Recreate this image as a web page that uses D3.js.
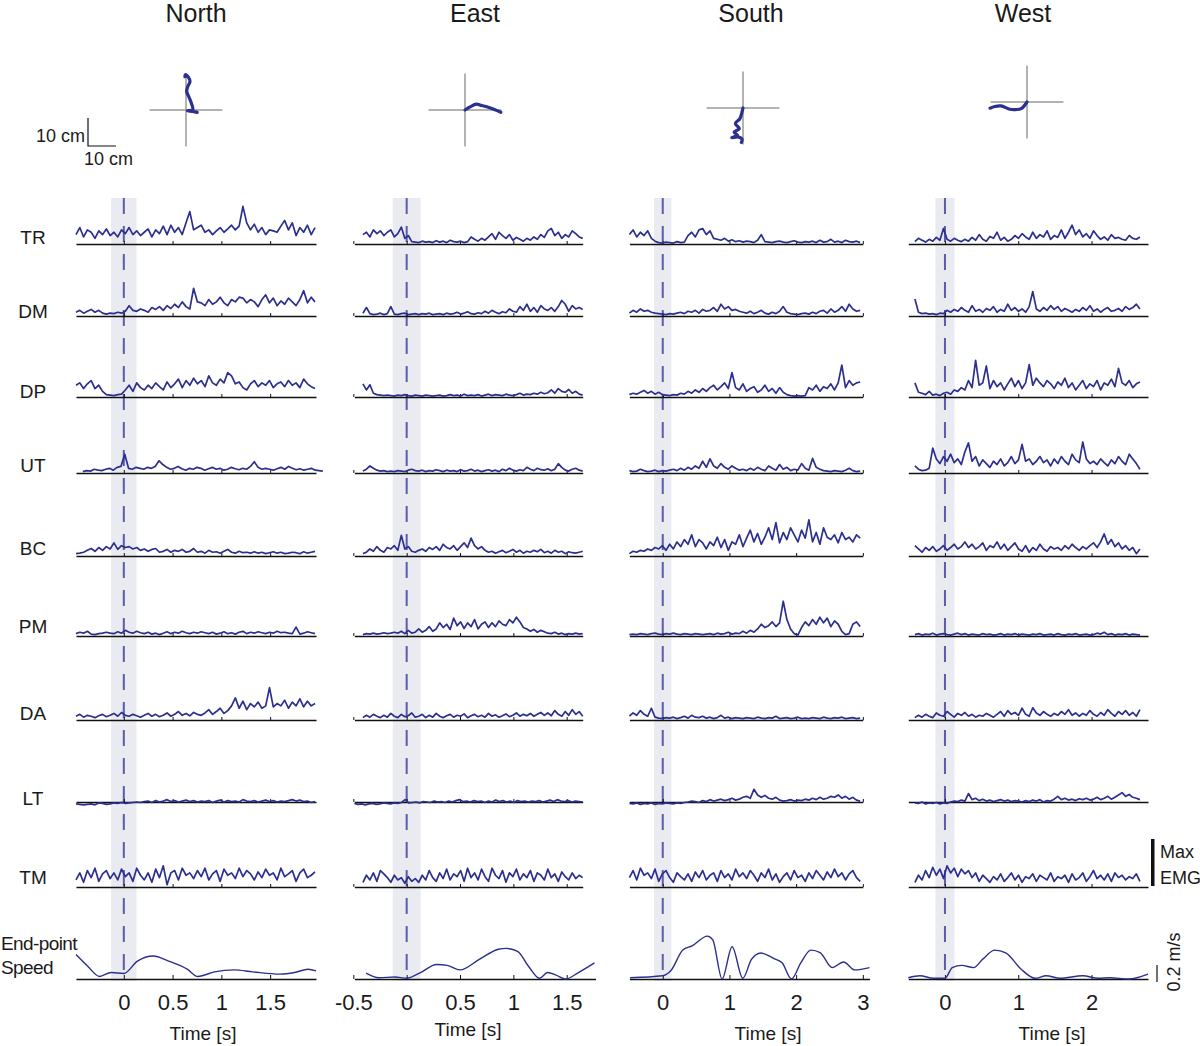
<!DOCTYPE html>
<html><head><meta charset="utf-8">
<script src="https://cdn.jsdelivr.net/npm/d3@7"></script>
<style>
body{margin:0;background:#fff}
svg{display:block}
text{font-family:"Liberation Sans",Arial,Helvetica,sans-serif;fill:#1a1a1a}
</style>
</head><body>
<svg id="c" width="1200" height="1046"></svg>
<script>
// ---------------- DATA ----------------
const directions = ["North", "East", "South", "West"];
const muscles = ["TR", "DM", "DP", "UT", "BC", "PM", "DA", "LT", "TM"];

const ticksNorth = [0, 0.5, 1, 1.5];
const ticksEast = [-0.5, 0, 0.5, 1, 1.5];
const ticksSouth = [0, 1, 2, 3];
const ticksWest = [0, 1, 2];

// time extents (s)
const axisStart = [-0.49, -0.49, -0.5, -0.5];
const emgAxisEnd = [1.97, 1.65, 3.0, 2.77];
const speedAxisEnd = [1.97, 1.77, 3.1, 2.77];
const traceStart = [-0.49, -0.41, -0.5, -0.41];
const traceEnd = [1.96, 1.65, 2.96, 2.66];
const traceRangeNorthUT = [-0.42, 2.04];
const traceRangeEastLT = [-0.49, 1.65];
const onsetBand = [-0.13, 0.13];

// EMG envelopes, % of max EMG, muscle order as in `muscles`
const emgNorth = [
 [20,35,15,30,25,12,28,20,32,18,25,15,30,22,35,20, 28,18,25,32,15,30,22,38,20,40,25,35,20,45,69,30, 35,40,25,30,20,28,35,25,32,40,30,38,80,45,30,42, 25,35,20,30,28,25,38,50,30,45,18,35,25,40,20,35],
 [8,12,6,10,14,8,12,6,4,6,5,8,6,10,22,12, 10,15,12,8,18,14,20,12,22,16,25,18,30,20,15,59, 30,28,22,35,25,30,40,28,22,35,30,40,38,28,35,30, 20,35,45,28,38,22,32,25,38,30,22,35,54,28,40,30],
 [25,30,18,28,35,18,25,12,5,4,3,5,6,15,25,12, 30,20,15,25,18,30,22,15,32,20,28,38,20,35,25,40, 28,35,22,45,30,25,38,30,52,45,28,32,20,15,28,35, 22,30,25,35,20,28,32,22,35,25,30,20,38,28,22,18],
 [3,5,4,8,6,5,8,10,6,12,14,40,10,8,12,10, 8,12,10,14,26,18,12,8,10,14,9,6,10,8,12,10, 6,9,12,8,10,6,8,12,9,7,10,8,14,24,12,8, 10,8,6,9,12,8,14,10,7,9,6,8,10,6,5,4],
 [5,6,8,12,16,10,18,12,20,15,28,14,22,18,20,15, 18,12,15,10,14,16,8,10,14,8,12,10,14,8,10,16, 8,10,6,12,8,9,6,10,14,8,6,10,7,8,6,9, 6,8,5,7,9,6,8,5,6,8,7,5,9,6,8,10],
 [5,8,6,10,4,3,5,6,8,6,5,9,6,12,8,6, 10,7,5,8,4,6,3,6,9,5,8,6,10,7,5,8, 6,9,7,5,8,4,6,9,5,7,4,8,10,5,8,6, 9,7,5,8,6,10,7,8,6,5,19,4,6,9,7,5],
 [8,12,6,10,8,5,9,12,7,10,14,8,16,10,8,12, 9,6,10,14,8,12,7,10,15,8,12,18,10,14,9,16, 12,10,15,22,12,18,25,14,20,30,47,25,40,22,35,28, 38,25,30,69,28,35,30,42,25,38,30,45,28,40,30,35],
 [-4,-5,-6,-5,-4,-6,-2,-3,-5,-4,-2,-3,-1,-3,-2,-1, 0,-1,1,2,-1,3,0,2,5,1,3,0,2,4,1,3, 0,2,1,3,-1,2,4,0,3,1,2,0,5,2,1,3, 0,2,4,1,3,0,2,1,3,5,2,4,1,2,-1,1],
 [15,30,10,35,20,40,12,28,35,18,30,15,38,22,30,12, 40,25,15,30,10,38,20,45,5,30,35,15,40,25,30,18, 35,22,40,15,28,35,12,38,25,30,18,40,22,35,28,15, 32,20,38,25,30,15,40,22,28,35,12,30,38,20,25,32]
];

const emgEast = [
 [20,25,15,30,22,28,18,25,30,15,22,36,12,18,5,4, 3,6,4,5,3,7,4,6,3,8,5,4,6,3,5,15, 10,6,12,8,15,22,10,25,18,12,20,8,14,10,6,12, 8,15,10,20,14,28,33,18,25,12,20,15,28,22,15,12],
 [6,18,5,3,4,6,3,5,20,4,3,5,6,3,4,5, 3,5,4,6,3,4,5,3,6,4,5,8,4,6,9,5, 4,7,5,10,6,12,8,5,9,7,15,10,8,20,12,25, 10,18,8,22,15,12,18,10,20,33,25,10,22,15,18,14],
 [28,15,26,8,5,4,3,4,3,2,4,3,5,3,2,4, 3,2,4,3,2,3,4,2,3,5,3,4,2,6,3,4, 3,5,2,4,6,3,5,4,3,6,4,3,5,8,4,6, 5,8,6,10,7,9,15,8,18,12,10,16,8,12,6,4],
 [4,8,15,10,6,4,5,3,4,3,5,4,3,6,8,5, 4,6,3,5,4,7,5,3,6,4,5,3,7,4,5,8, 4,6,3,5,7,4,6,3,8,5,10,6,4,7,5,12, 8,5,10,7,6,9,5,8,20,12,6,4,8,10,6,4],
 [5,8,15,10,20,12,8,18,15,22,12,44,15,20,10,8, 12,15,10,18,14,20,12,25,18,15,22,12,20,28,18,38, 22,15,20,12,8,10,6,9,12,7,10,14,8,12,6,10, 8,12,9,14,7,10,6,12,8,10,5,9,7,6,8,10],
 [3,5,4,6,4,5,7,5,6,8,6,10,5,12,6,8, 15,8,12,20,10,15,28,18,25,14,38,22,30,16,28,20, 35,15,25,30,18,28,20,32,25,22,35,28,40,30,18,15, 10,14,8,12,9,6,5,8,4,6,3,5,4,6,4,5],
 [5,10,6,12,8,5,10,6,14,8,5,12,7,9,15,6, 8,12,5,10,6,14,8,5,9,12,6,10,8,13,5,9, 12,7,10,6,14,8,11,6,9,13,7,10,15,8,12,9, 14,8,12,16,10,15,9,20,12,8,18,10,22,12,18,8],
 [-3,-5,-4,-6,-4,-3,-5,-4,-2,-3,-4,-2,-3,-1,5,-2, -1,0,-2,1,0,-1,2,0,1,-1,2,0,3,5,1,2, 0,3,1,2,-1,2,0,4,1,3,0,2,-1,3,1,2, 0,2,1,3,0,2,4,1,5,2,1,3,0,2,1,0],
 [10,25,15,30,12,35,28,20,10,25,15,20,8,22,12,18, 10,25,15,35,20,12,30,18,38,15,28,22,35,12,40,20, 30,15,38,22,12,40,25,18,35,10,30,22,38,15,28,20, 35,12,30,25,15,38,20,28,12,32,22,15,30,18,25,20]
];

const emgSouth = [
 [20,30,15,25,18,28,12,6,3,2,4,3,2,5,3,4, 18,25,15,30,33,20,28,12,10,8,12,6,9,5,7,4, 6,5,3,8,20,5,4,3,5,6,4,3,5,7,4,3, 5,4,6,3,8,4,5,10,4,6,3,8,5,4,6,3],
 [6,12,8,15,10,12,8,6,5,4,3,5,4,6,8,5, 10,8,12,6,14,10,12,18,10,25,15,20,12,14,10,8, 6,10,5,8,12,6,4,8,5,10,20,8,5,4,3,5, 6,4,8,5,10,12,6,15,8,12,20,10,25,15,10,12],
 [5,8,6,10,14,8,12,6,10,5,4,3,5,4,8,6, 12,8,15,10,18,12,20,25,15,22,30,18,52,20,15,28, 12,18,22,10,15,25,12,18,8,20,10,5,3,2,3,2, 3,20,15,25,12,22,18,28,15,30,68,20,35,25,30,32],
 [5,3,4,8,5,3,4,6,3,5,4,6,8,5,10,6, 12,8,15,10,25,12,30,15,10,20,12,8,15,10,6,8, 5,10,6,12,8,5,15,10,6,18,8,12,5,8,6,20, 10,6,31,12,8,5,4,3,5,4,3,6,10,5,3,4],
 [5,10,8,12,10,15,12,18,15,22,12,25,15,30,20,35, 25,45,20,35,28,15,30,22,40,18,35,12,30,25,45,20, 38,55,30,48,25,40,60,35,71,28,50,35,60,45,30,55, 38,77,30,50,25,60,40,35,45,28,50,35,40,30,45,38],
 [3,4,3,5,4,3,5,6,4,3,5,4,6,4,3,5, 4,3,5,4,3,4,5,3,6,4,5,8,4,6,5,10, 6,12,8,15,25,18,22,30,20,28,74,35,15,5,2,18, 30,22,35,25,40,28,38,20,32,25,10,3,5,25,30,20],
 [8,15,10,20,12,8,25,6,4,3,5,4,6,3,5,8, 4,10,6,5,8,4,6,3,5,10,4,6,3,5,4,3, 5,4,3,6,4,3,5,4,8,3,4,5,3,4,6,3, 4,3,5,4,3,6,4,3,5,4,6,3,4,5,3,4],
 [-3,-4,-2,-5,-3,-4,-2,-5,-3,-4,-2,-3,-4,-2,-3,-1, 0,2,1,-1,3,1,5,2,4,6,3,5,8,4,6,10, 12,8,27,15,10,14,8,6,10,4,2,3,5,2,4,3, 6,4,8,5,10,6,8,12,10,15,8,12,6,10,4,2],
 [20,35,15,40,25,30,18,38,12,28,35,20,10,30,22,15, 28,12,32,20,35,15,25,30,12,35,20,28,15,38,22,30, 18,35,25,12,30,20,38,15,28,10,22,30,15,35,20,25, 12,30,18,35,25,15,32,20,38,22,30,15,28,35,20,12]
];

const emgWest = [
 [5,12,8,4,10,6,14,8,33,10,6,12,8,5,10,6, 14,8,20,10,6,16,12,25,8,14,6,10,18,12,22,15, 10,25,12,20,15,28,10,18,14,30,12,25,40,20,30,15, 22,12,28,18,10,15,8,20,12,14,10,8,18,12,10,15],
 [36,8,5,6,4,5,3,6,5,12,8,14,10,18,12,8, 22,10,14,8,16,12,20,8,14,10,25,12,18,10,15,8, 20,52,15,10,18,12,22,14,20,10,16,12,8,14,10,18, 12,22,10,15,8,14,18,10,12,16,10,20,14,18,25,15],
 [30,10,8,5,12,4,6,3,8,10,6,15,12,20,15,35, 20,78,25,30,66,18,35,22,30,15,28,40,22,35,18,30, 69,25,40,30,22,35,28,18,32,25,40,20,30,15,25,35, 18,28,22,35,15,30,25,38,22,61,30,25,35,20,28,32],
 [15,8,5,6,10,53,30,20,35,25,40,22,30,18,45,64, 25,35,15,28,20,12,25,18,30,15,22,35,20,28,61,25, 30,18,25,35,22,28,15,30,20,35,25,18,40,28,22,66, 30,20,25,18,30,22,15,28,20,35,25,18,40,30,20,8],
 [22,15,8,18,12,20,10,15,22,12,18,25,15,20,30,18, 25,15,20,28,12,22,18,30,15,25,12,20,28,15,10,22, 8,18,12,25,15,10,20,15,18,12,22,15,25,18,12,20, 15,22,28,18,30,47,25,35,20,28,15,22,12,18,5,15],
 [3,5,2,4,3,6,2,4,5,3,2,4,6,3,5,2, 4,3,2,5,3,4,2,3,5,2,4,3,5,2,4,3, 2,4,3,5,2,3,4,2,5,3,2,4,3,5,2,3, 4,2,3,6,4,8,3,5,2,4,3,5,2,4,3,2],
 [5,10,6,12,8,5,15,10,8,18,12,6,14,10,16,8, 12,6,10,8,14,10,6,12,18,8,20,12,16,10,25,12, 8,26,15,10,18,12,8,14,10,18,12,22,10,15,8,14, 10,20,12,8,16,10,22,14,8,18,12,20,10,16,8,22],
 [-2,-3,0,-4,-2,-3,-1,-4,-2,-3,0,2,1,4,2,18, 5,8,3,6,2,4,1,3,5,2,4,1,3,2,0,3, 1,4,2,5,0,3,2,6,12,5,8,4,6,3,7,5, 8,4,6,10,5,8,12,6,10,15,20,12,16,10,8,5],
 [10,25,15,35,20,42,25,38,18,45,30,40,22,38,28,35, 20,30,12,25,18,10,22,15,28,12,20,30,15,25,10,22, 18,28,12,25,20,15,30,12,22,18,25,10,28,15,20,30, 12,22,35,18,25,15,28,12,30,20,25,15,22,18,28,12]
];

// End-point speed [time s, speed m/s]
const speedNorth = [[-0.49,0.287],[-0.37,0.15],[-0.25,0.03],[-0.13,0.076],[0,0.065],[0.14,0.21],[0.3,0.27],[0.46,0.21],[0.65,0.115],[0.76,0.03],[0.93,0.084],[1.13,0.107],[1.32,0.084],[1.6,0.057],[1.75,0.076],[1.89,0.115],[1.97,0.096]];
const speedEast = [[-0.38,0.069],[-0.26,0.015],[-0.11,0.023],[0,0.008],[0.13,0.076],[0.28,0.17],[0.38,0.16],[0.5,0.107],[0.68,0.23],[0.86,0.35],[0.93,0.36],[1.04,0.325],[1.14,0.153],[1.245,0.008],[1.32,0.076],[1.4,0.046],[1.49,0.0],[1.61,0.076],[1.76,0.19]];
const speedSouth = [[-0.49,0.015],[0,0.038],[0.12,0.096],[0.3,0.34],[0.44,0.39],[0.67,0.505],[0.75,0.46],[0.89,0.0],[1.04,0.38],[1.2,0.008],[1.33,0.23],[1.47,0.306],[1.67,0.24],[1.79,0.19],[1.93,0.0],[2.07,0.19],[2.22,0.34],[2.36,0.31],[2.54,0.134],[2.71,0.2],[2.88,0.107],[3.1,0.134]];
const speedWest = [[-0.5,0.015],[-0.34,0.038],[-0.16,0.008],[0,0.008],[0.1,0.134],[0.23,0.16],[0.39,0.134],[0.52,0.237],[0.68,0.34],[0.83,0.306],[1.04,0.115],[1.23,0.008],[1.38,0.038],[1.57,0.008],[1.88,0.038],[2.09,0.008],[2.25,0.015],[2.51,0.0],[2.77,0.057]];

// hand trajectories, cm (x right, y up), relative to start
const trajNorth = [[4.0,-0.86],[2.5,-0.5],[0.5,-0.25],[2.4,0.1],[1.9,2.5],[1.0,4.8],[0.25,6.6],[0.6,8.3],[1.43,10.2],[0.9,11.6],[-0.25,12.6],[-0.4,11.9]];
const trajEast = [[0,0],[2,1.2],[4,2.1],[6,1.6],[8,1.1],[10.5,0.2],[12.8,-0.8]];
const trajSouth = [[0,0],[-0.5,-2],[-1.1,-3.8],[-2.7,-5.6],[-1.3,-7.4],[-3.2,-8.6],[-1.9,-9.8],[-4,-10.6],[-1.5,-10.4],[-0.3,-11.2],[-0.6,-12.3]];
const trajWest = [[0,0],[-2.1,-2.4],[-4,-2.7],[-6.1,-2.6],[-9.3,-1.4],[-11.5,-1.6],[-13.2,-2.2]];
const crossHalfCm = 13;
const scaleBarCm = 10;
const scaleBarSpeed = 0.2;   // m/s
const scaleBarEmg = 100;     // % max

// ---------------- LAYOUT ----------------
const ticksAll = [ticksNorth, ticksEast, ticksSouth, ticksWest];
const emgAll = [emgNorth, emgEast, emgSouth, emgWest];
const speedAll = [speedNorth, speedEast, speedSouth, speedWest];
const trajAll = [trajNorth, trajEast, trajSouth, trajWest];

const colLeft = [76, 354.4, 629.4, 908.3];
const colRight = [316, 595.5, 869.5, 1148];
const titleX = [196, 475, 751, 1023];
const timeLabelX = [203, 468, 768, 1052];
const timeLabelY = [1040, 1036, 1040, 1040];
const rowBase = [244, 316, 397, 473, 556, 636, 720, 802, 887];
const rowLabelY = [237, 311, 391, 465, 548, 626, 713, 798, 877];
const speedBase = 979;
const emgPx = 47;      // px for 100 % max
const speedPx = 85;    // px per 1 m/s
const trajCenter = [[186,110],[465,110],[743,108],[1027,102]];
const pxPerCm = 2.8;

const traceColor = "#2b2f8e";
const svg = d3.select("#c");
const fmt = d => String(d);

const gBand = svg.append("g");
const gDash = svg.append("g");
const gAxis = svg.append("g");
const gTrace = svg.append("g");
const gText = svg.append("g");

directions.forEach((dir, ci) => {
  const x = d3.scaleLinear([axisStart[ci], speedAxisEnd[ci]], [colLeft[ci], colRight[ci]]);
  const xe = d3.scaleLinear([axisStart[ci], emgAxisEnd[ci]], [x(axisStart[ci]), x(emgAxisEnd[ci])]);

  gText.append("text").attr("x", titleX[ci]).attr("y", 22).attr("text-anchor", "middle")
    .attr("font-size", 25).text(dir);

  gBand.append("rect").attr("x", x(onsetBand[0])).attr("y", 198)
    .attr("width", x(onsetBand[1]) - x(onsetBand[0])).attr("height", 783)
    .attr("fill", "#eaebf0");
  gDash.append("line").attr("x1", x(0)).attr("x2", x(0)).attr("y1", 198).attr("y2", speedBase - 1)
    .attr("stroke", "#5a5cab").attr("stroke-width", 2).attr("stroke-dasharray", "16,12");

  muscles.forEach((m, ri) => {
    const base = rowBase[ri];
    const y = d3.scaleLinear([0, 100], [base, base - emgPx]);
    const ax = gAxis.append("g").attr("transform", `translate(0,${base})`)
      .call(d3.axisBottom(xe).tickValues(ticksAll[ci].filter(t => t <= emgAxisEnd[ci] + 1e-9))
        .tickSizeInner(-3).tickSizeOuter(0).tickFormat(""));
    ax.select(".domain").attr("stroke", "#111").attr("stroke-width", 1.7);
    ax.selectAll(".tick line").attr("stroke", "#111").attr("stroke-width", 1);

    const vals = emgAll[ci][ri];
    let t0 = traceStart[ci], t1 = traceEnd[ci];
    if (dir === "North" && m === "UT") { t0 = traceRangeNorthUT[0]; t1 = traceRangeNorthUT[1]; }
    if (dir === "East" && m === "LT") { t0 = traceRangeEastLT[0]; t1 = traceRangeEastLT[1]; }
    const n = vals.length;
    const line = d3.line().x((d, i) => x(t0 + i * (t1 - t0) / (n - 1))).y(d => y(d));
    gTrace.append("path").attr("d", line(vals)).attr("fill", "none")
      .attr("stroke", traceColor).attr("stroke-width", 1.7).attr("stroke-linejoin", "round");
  });

  const ys = d3.scaleLinear([0, 1], [speedBase, speedBase - speedPx]);
  const sax = gAxis.append("g").attr("transform", `translate(0,${speedBase})`)
    .call(d3.axisBottom(x).tickValues(ticksAll[ci]).tickSizeInner(-4).tickSizeOuter(0)
      .tickPadding(15).tickFormat(fmt));
  sax.attr("font-size", 22).attr("font-family", '"Liberation Sans",Arial,sans-serif');
  sax.select(".domain").attr("stroke", "#111").attr("stroke-width", 1.7);
  sax.selectAll(".tick line").attr("stroke", "#111").attr("stroke-width", 1);
  sax.selectAll(".tick text").attr("fill", "#1a1a1a");
  const sline = d3.line().x(d => x(d[0])).y(d => ys(d[1])).curve(d3.curveMonotoneX);
  gTrace.append("path").attr("d", sline(speedAll[ci])).attr("fill", "none")
    .attr("stroke", traceColor).attr("stroke-width", 1.4);

  gText.append("text").attr("x", timeLabelX[ci]).attr("y", timeLabelY[ci])
    .attr("text-anchor", "middle").attr("font-size", 19).text("Time [s]");

  const [cx, cy] = trajCenter[ci];
  const tx = d3.scaleLinear([-crossHalfCm, crossHalfCm], [cx - crossHalfCm * pxPerCm, cx + crossHalfCm * pxPerCm]);
  const ty = d3.scaleLinear([-crossHalfCm, crossHalfCm], [cy + crossHalfCm * pxPerCm, cy - crossHalfCm * pxPerCm]);
  gAxis.append("line").attr("x1", tx(-crossHalfCm)).attr("x2", tx(crossHalfCm)).attr("y1", ty(0)).attr("y2", ty(0))
    .attr("stroke", "#9a9a9a").attr("stroke-width", 1.5);
  gAxis.append("line").attr("x1", tx(0)).attr("x2", tx(0)).attr("y1", ty(-crossHalfCm)).attr("y2", ty(crossHalfCm))
    .attr("stroke", "#9a9a9a").attr("stroke-width", 1.5);
  const tline = d3.line().x(d => tx(d[0])).y(d => ty(d[1])).curve(d3.curveCatmullRom);
  gTrace.append("path").attr("d", tline(trajAll[ci])).attr("fill", "none")
    .attr("stroke", traceColor).attr("stroke-width", 3.2).attr("stroke-linecap", "round").attr("stroke-linejoin", "round");
});

muscles.forEach((m, ri) => {
  gText.append("text").attr("x", 33).attr("y", rowLabelY[ri]).attr("text-anchor", "middle")
    .attr("dominant-baseline", "central").attr("font-size", 19).text(m);
});
gText.append("text").attr("x", 1).attr("y", 950).attr("font-size", 19).attr("letter-spacing", -0.6).text("End-point");
gText.append("text").attr("x", 1).attr("y", 974).attr("font-size", 19).attr("letter-spacing", -0.6).text("Speed");

const sb = scaleBarCm * pxPerCm;
svg.append("path").attr("d", `M88,${146 - sb}V146H${88 + sb}`).attr("fill", "none")
  .attr("stroke", "#111").attr("stroke-width", 1.2);
gText.append("text").attr("x", 85).attr("y", 142).attr("text-anchor", "end").attr("font-size", 18).text("10 cm");
gText.append("text").attr("x", 84).attr("y", 165).attr("font-size", 18).text("10 cm");

const emgBar = d3.scaleLinear([0, 100], [886, 886 - emgPx]);
svg.append("rect").attr("x", 1151).attr("y", emgBar(scaleBarEmg)).attr("width", 3.5)
  .attr("height", emgBar(0) - emgBar(scaleBarEmg)).attr("fill", "#111");
gText.append("text").attr("x", 1160).attr("y", 858).attr("font-size", 18).text("Max");
gText.append("text").attr("x", 1160).attr("y", 884).attr("font-size", 18).text("EMG");

const spBar = d3.scaleLinear([0, 1], [982, 982 - speedPx]);
svg.append("line").attr("x1", 1157).attr("x2", 1157).attr("y1", spBar(0)).attr("y2", spBar(scaleBarSpeed))
  .attr("stroke", "#111").attr("stroke-width", 1.2);
gText.append("text").attr("transform", "translate(1174,962) rotate(-90)").attr("text-anchor", "middle")
  .attr("dominant-baseline", "central").attr("font-size", 18).text("0.2 m/s");
</script>
</body></html>
